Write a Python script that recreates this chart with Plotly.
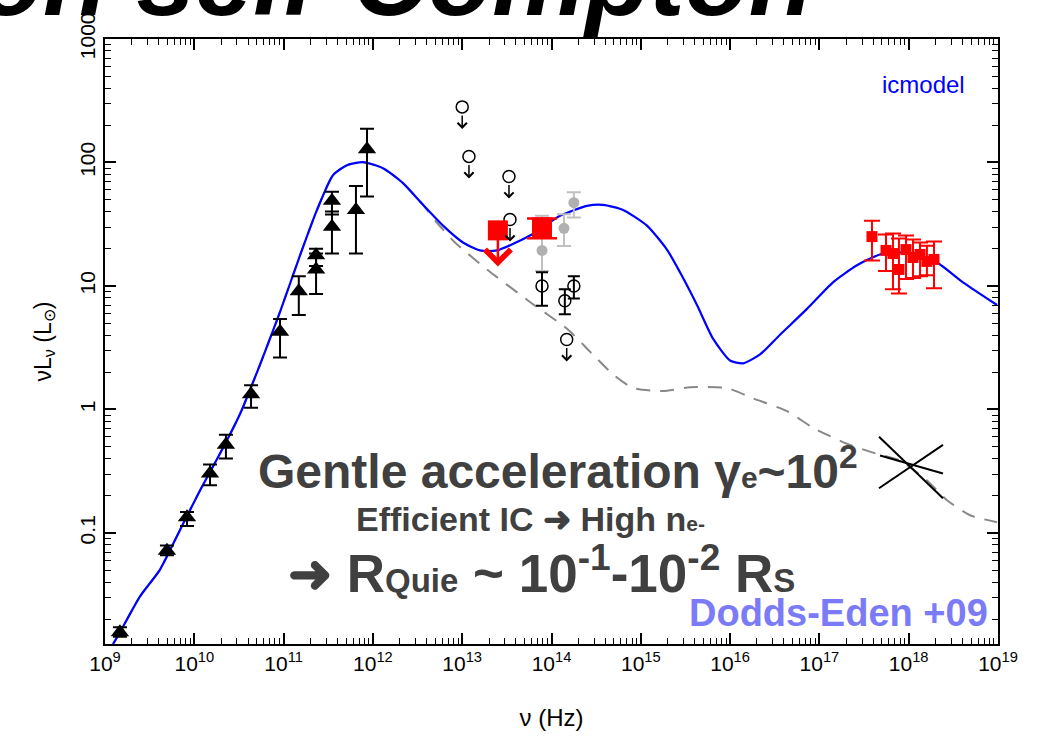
import numpy as np
import plotly.graph_objects as go

# ---------------- data ----------------
# radio / sub-mm detections (black triangles)
radio_nu = [1.47e9, 4.94e9, 8.28e9, 1.50e10, 2.26e10, 4.32e10, 9.12e10,
            1.48e11, 2.31e11, 2.31e11, 3.48e11, 3.48e11, 6.46e11, 8.59e11]
radio_L = [0.0157, 0.0717, 0.134, 0.303, 0.517, 1.33, 4.26,
           9.08, 13.6, 17.7, 30.2, 48.9, 41.3, 128.0]
radio_hi = [0.0172, 0.0790, 0.1476, 0.358, 0.624, 1.57, 5.4,
            12.0, 18.3, 20.0, 40.0, 58.0, 64.5, 188.0]
radio_lo = [0.0144, 0.0660, 0.1137, 0.243, 0.400, 1.03, 2.63,
            5.83, 8.6, 14.5, 18.3, 37.9, 18.3, 53.0]

# mid-IR upper limits (open circles with arrows)
ul_nu = [1.00e13, 1.19e13, 3.34e13, 3.43e13, 1.48e14]
ul_L = [282.0, 112.0, 77.0, 34.5, 3.69]

# quiescent NIR points (open circles with error bars)
nir_nu = [7.83e13, 1.41e14, 1.78e14]
nir_L = [10.0, 7.6, 10.0]
nir_hi = [12.9, 9.4, 12.0]
nir_lo = [6.9, 5.9, 7.9]

# flare NIR points (grey filled circles)
gry_nu = [7.83e13, 1.38e14, 1.78e14]
gry_L = [19.4, 29.3, 47.3]
gry_hi = [37.0, 38.0, 57.5]
gry_lo = [13.2, 21.1, 35.9]

# flare mid-IR limit and NIR flux (large red squares)
red_lim_nu = [2.51e13]
red_lim_L = [28.2]
red_lim_tip = [14.4]
red_nu = [7.83e13]
red_L = [29.8]
red_hi = [35.2]
red_lo = [24.3]

# X-ray flare spectrum (small red squares)
xr_nu = [3.88e17, 5.57e17, 6.67e17, 7.78e17, 9.33e17, 1.117e18, 1.34e18, 1.60e18, 1.92e18]
xr_L = [25.1, 19.4, 18.3, 13.6, 19.7, 17.0, 18.0, 15.8, 16.4]
xr_hi = [33.7, 26.1, 26.6, 24.2, 25.6, 23.8, 22.5, 21.2, 22.9]
xr_lo = [16.1, 13.2, 9.4, 8.7, 11.4, 11.6, 12.0, 12.2, 9.6]

# quiescent X-ray bow-tie (three power laws)
bow_nu = [[4.65e17, 2.42e18], [4.65e17, 2.42e18], [4.78e17, 2.42e18]]
bow_L = [[0.600, 0.191], [0.230, 0.517], [0.423, 0.303]]

# icmodel SED (blue) and quiescent model (grey dashed), log10(nu/Hz)
icm_lognu = [9.09, 9.168, 9.392, 9.616, 9.84, 10.064, 10.288, 10.512, 10.736, 10.96,
             11.184, 11.374, 11.553, 11.71, 11.889, 12.113, 12.337, 12.561, 12.785,
             13.009, 13.199, 13.39, 13.759, 14.095, 14.398, 14.577, 14.801, 15.069,
             15.293, 15.439, 15.629, 15.809, 15.999, 16.145, 16.335, 16.559, 16.861,
             17.152, 17.421, 17.679, 17.903, 18.048, 18.317, 18.608, 18.989]
icm_L = [0.0126, 0.0157, 0.0306, 0.0505, 0.1057, 0.221, 0.439, 0.918, 2.31, 6.17,
         17.7, 41.3, 78.9, 95.1, 100.5, 89.9, 68.1, 45.4, 30.8,
         22.5, 19.4, 19.4, 25.6, 37.0, 44.5, 45.3, 41.3, 30.8,
         19.7, 12.9, 7.01, 3.74, 2.49, 2.36, 2.79, 4.03, 6.52,
         10.7, 14.7, 18.0, 18.7, 18.0, 15.5, 10.7, 7.01]

q_lognu = [9.09, 9.168, 9.392, 9.616, 9.84, 10.064, 10.288, 10.512, 10.736, 10.96,
           11.184, 11.374, 11.553, 11.71, 11.889, 12.113, 12.337, 12.561, 12.718,
           12.919, 13.278, 13.759, 14.174, 14.431, 14.689, 14.913, 15.249, 15.551,
           15.965, 16.256, 16.637, 16.928, 17.309, 17.6, 17.903, 18.205, 18.429,
           18.687, 18.989]
q_L = [0.0126, 0.0157, 0.0306, 0.0505, 0.1057, 0.221, 0.439, 0.918, 2.31, 6.17,
       17.7, 41.3, 78.9, 95.1, 100.5, 89.9, 68.1, 45.4, 32.5,
       22.5, 13.6, 7.41, 4.50, 2.94, 1.92, 1.49, 1.41, 1.51,
       1.49, 1.23, 0.970, 0.710, 0.527, 0.447, 0.385, 0.266, 0.184,
       0.139, 0.122]

x_exps = list(range(9, 20))
x_ticks = [10.0 ** k for k in x_exps]
x_labels = [f"10<sup>{k}</sup>" for k in x_exps]
y_ticks = [0.1, 1, 10, 100, 1000]
y_labels = ["0.1", "1", "10", "100", "1000"]

# ---------------- figure ----------------
BLUE = "#0000ff"
RED = "#ff0000"
GREY = "#b0b0b0"
TXT = "#404040"
FONT = "Liberation Sans, Arial, Helvetica, sans-serif"


def errs(val, hi, lo):
    v = np.array(val)
    return dict(type="data", symmetric=False, array=np.array(hi) - v,
                arrayminus=v - np.array(lo))


def small(txt, px):
    # small index that stays on the baseline
    return f"<span style='font-size:{px}px'>{txt}</span>"


fig = go.Figure()

fig.add_trace(go.Scatter(x=10.0 ** np.array(q_lognu), y=q_L, mode="lines",
                         line=dict(color="#888888", width=2, dash="14px,10px",
                                   shape="spline", smoothing=0.6)))
fig.add_trace(go.Scatter(x=10.0 ** np.array(icm_lognu), y=icm_L, mode="lines",
                         line=dict(color=BLUE, width=2.2, shape="spline", smoothing=0.6)))

for bn, bl in zip(bow_nu, bow_L):
    fig.add_trace(go.Scatter(x=bn, y=bl, mode="lines", line=dict(color="black", width=2)))

fig.add_trace(go.Scatter(x=radio_nu, y=radio_L, mode="markers",
                         marker=dict(symbol="triangle-up", size=16, color="black"),
                         error_y=dict(**errs(radio_L, radio_hi, radio_lo), color="black",
                                      thickness=2, width=7)))

fig.add_trace(go.Scatter(x=gry_nu, y=gry_L, mode="markers",
                         marker=dict(symbol="circle", size=11, color=GREY),
                         error_y=dict(**errs(gry_L, gry_hi, gry_lo), color="#c0c0c0",
                                      thickness=2, width=7)))

fig.add_trace(go.Scatter(x=nir_nu, y=nir_L, mode="markers",
                         marker=dict(symbol="circle-open", size=12, color="black",
                                     line=dict(width=1.5)),
                         error_y=dict(**errs(nir_L, nir_hi, nir_lo), color="black",
                                      thickness=2, width=6)))

fig.add_trace(go.Scatter(x=ul_nu, y=ul_L, mode="markers",
                         marker=dict(symbol="circle-open", size=12, color="black",
                                     line=dict(width=1.5))))

fig.add_trace(go.Scatter(x=red_lim_nu, y=red_lim_L, mode="markers",
                         marker=dict(symbol="square", size=20, color=RED)))
fig.add_trace(go.Scatter(x=red_nu, y=red_L, mode="markers",
                         marker=dict(symbol="square", size=20, color=RED),
                         error_y=dict(**errs(red_L, red_hi, red_lo), color=RED,
                                      thickness=2.5, width=15)))

fig.add_trace(go.Scatter(x=xr_nu, y=xr_L, mode="markers",
                         marker=dict(symbol="square", size=11, color=RED),
                         error_y=dict(**errs(xr_L, xr_hi, xr_lo), color=RED,
                                      thickness=2, width=8)))

annotations = []
# downward arrows of the upper limits
for n, l in zip(ul_nu, ul_L):
    annotations.append(dict(x=np.log10(n), y=np.log10(l), xref="x", yref="y",
                            text="", showarrow=True, arrowhead=4, arrowsize=1.2,
                            arrowwidth=1.5, arrowcolor="black",
                            ax=0, ay=-15, yshift=-22))
for n, l, t in zip(red_lim_nu, red_lim_L, red_lim_tip):
    annotations.append(dict(x=np.log10(n), y=np.log10(t), xref="x", yref="y",
                            ax=np.log10(n), ay=np.log10(l), axref="x", ayref="y",
                            text="", showarrow=True, arrowhead=4, arrowsize=2.0,
                            arrowwidth=2.5, arrowcolor=RED))

annotations += [
    dict(x=0.795, y=1.0, xref="paper", yref="paper", xanchor="right", yanchor="bottom",
         text="<b><i>Synchrotron self-Compton</i></b>", showarrow=False,
         font=dict(family=FONT, size=105, color="black")),
    dict(x=0.965, y=0.925, xref="paper", yref="paper", xanchor="right", yanchor="middle",
         text="icmodel", showarrow=False, font=dict(family=FONT, size=24, color=BLUE)),
    dict(x=0.507, y=0.291, xref="paper", yref="paper", xanchor="center", yanchor="middle",
         text="<b>Gentle acceleration γ" + small("e", 30) + "~10<sup>2</sup></b>",
         showarrow=False, font=dict(family=FONT, size=48, color=TXT)),
    dict(x=0.476, y=0.206, xref="paper", yref="paper", xanchor="center", yanchor="middle",
         text="<b>Efficient IC ➜ High n" + small("e-", 21) + "</b>", showarrow=False,
         font=dict(family=FONT, size=34, color=TXT)),
    dict(x=0.489, y=0.123, xref="paper", yref="paper", xanchor="center", yanchor="middle",
         text="<b>➜ R" + small("Quie", 33) + " ~ 10<sup>-1</sup>-10<sup>-2</sup> R"
              + small("S", 33) + "</b>",
         showarrow=False, font=dict(family=FONT, size=53, color=TXT)),
    dict(x=0.991, y=0.052, xref="paper", yref="paper", xanchor="right", yanchor="middle",
         text="<b>Dodds-Eden +09</b>", showarrow=False,
         font=dict(family=FONT, size=38, color="#7b7bf8")),
]

axis_common = dict(
    type="log", showgrid=False, zeroline=False, showline=True, linecolor="black",
    linewidth=2, mirror="allticks", ticks="inside", ticklen=11, tickwidth=1.5,
    tickcolor="black", tickfont=dict(family=FONT, size=21, color="black"),
    minor=dict(ticks="inside", ticklen=6, tickwidth=1.2, tickcolor="black", dtick="D1",
               showgrid=False),
)

fig.update_layout(
    width=1040, height=739, showlegend=False,
    paper_bgcolor="white", plot_bgcolor="white",
    margin=dict(l=105, r=42, t=33, b=94),
    annotations=annotations,
    xaxis=dict(**axis_common, range=[9, 19], tickvals=x_ticks, ticktext=x_labels,
               title=dict(text="ν (Hz)", font=dict(family=FONT, size=24, color="black"),
                          standoff=35)),
    yaxis=dict(**axis_common, range=[np.log10(0.0126), 3], tickvals=y_ticks,
               ticktext=y_labels, tickangle=-90,
               title=dict(text="νL<sub>ν</sub> (L<sub>⊙</sub>)",
                          font=dict(family=FONT, size=23, color="black"),
                          standoff=18)),
)

fig.write_html("out.html")
